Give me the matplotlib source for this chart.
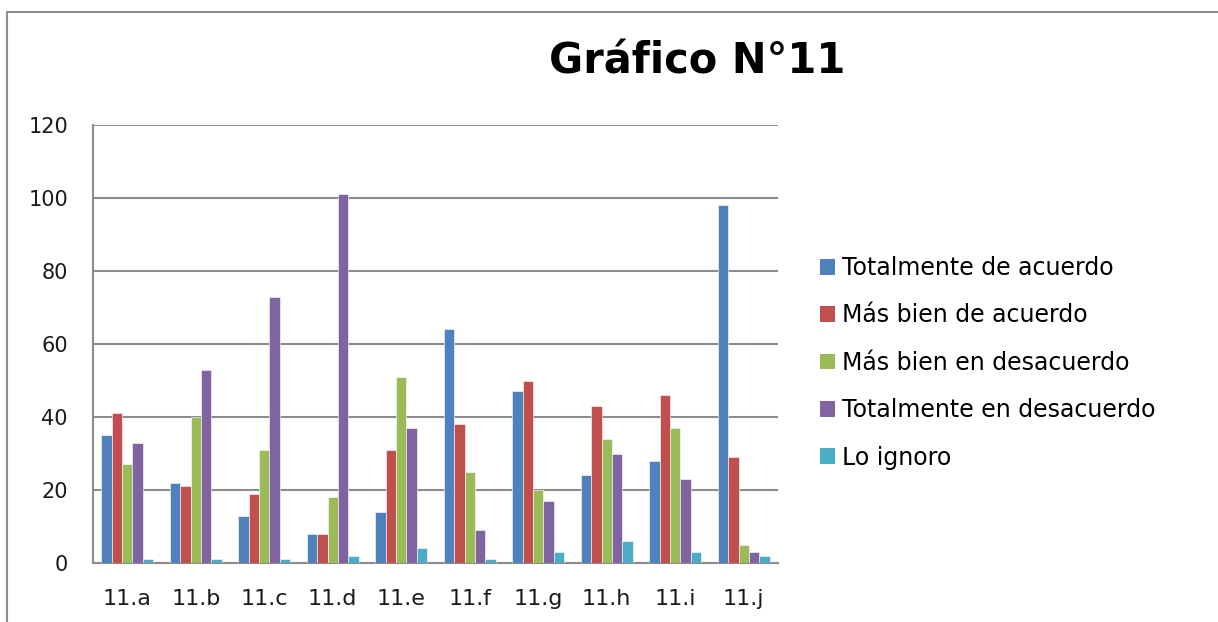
import matplotlib
matplotlib.use("Agg")
import matplotlib.pyplot as plt
import numpy as np
from matplotlib.patches import Rectangle, Patch

categories = ["11.a", "11.b", "11.c", "11.d", "11.e", "11.f", "11.g", "11.h", "11.i", "11.j"]
series_names = ["Totalmente de acuerdo", "Más bien de acuerdo", "Más bien en desacuerdo",
                "Totalmente en desacuerdo", "Lo ignoro"]
totalmente_acuerdo = [35, 22, 13, 8, 14, 64, 47, 24, 28, 98]
mas_bien_acuerdo = [41, 21, 19, 8, 31, 38, 50, 43, 46, 29]
mas_bien_desacuerdo = [27, 40, 31, 18, 51, 25, 20, 34, 37, 5]
totalmente_desacuerdo = [33, 53, 73, 101, 37, 9, 17, 30, 23, 3]
lo_ignoro = [1, 1, 1, 2, 4, 1, 3, 6, 3, 2]
colors = ["#4F81BD", "#C0504D", "#9BBB59", "#8064A2", "#4BACC6"]
yticks = [0, 20, 40, 60, 80, 100, 120]

values = [totalmente_acuerdo, mas_bien_acuerdo, mas_bien_desacuerdo, totalmente_desacuerdo, lo_ignoro]

plt.rcParams['font.family'] = ['DejaVu Sans']

W, H = 1218, 622
fig = plt.figure(figsize=(W / 100, H / 100), dpi=100)

# outer chart border
fig.patches.append(Rectangle((7 / W, -0.1), 1.2, (H - 12) / H + 0.1, transform=fig.transFigure,
                             fill=False, edgecolor="#8C8C8C", linewidth=1.5, zorder=0))

ax = fig.add_axes([93 / W, (H - 563) / H, (778 - 93) / W, (563 - 125) / H])
x = np.arange(len(categories))
bw = 0.152
for i, (vals, c, name) in enumerate(zip(values, colors, series_names)):
    ax.bar(x + (i - 2) * bw, vals, width=bw, color=c, edgecolor="#FFFFFF", linewidth=0.4,
           label=name, zorder=3)

ax.set_xlim(-0.5, len(categories) - 0.5)
ax.set_ylim(0, 120)
ax.set_yticks(yticks)
ax.set_yticklabels([str(v) for v in yticks], fontsize=15)
ax.set_xticks(x)
ax.set_xticklabels(categories, fontsize=16)
ax.tick_params(axis='both', length=0, colors="#1A1A1A")
ax.tick_params(axis='y', pad=18)
ax.tick_params(axis='x', pad=19)
ax.grid(axis='y', color="#8C8C8C", linewidth=1.5, zorder=0)
ax.set_axisbelow(True)
for s in ["top", "right"]:
    ax.spines[s].set_visible(False)
for s in ["left", "bottom"]:
    ax.spines[s].set_color("#8C8C8C")
    ax.spines[s].set_linewidth(1.5)

fig.text(697 / W, 1 - 62 / H, "Gráfico N°11", fontsize=30, fontweight="bold",
         ha="center", va="center")

handles = [Patch(facecolor=c, edgecolor="none") for c in colors]
fig.legend(handles, series_names, loc="upper left", bbox_to_anchor=(820 / W, 1 - 256 / H),
           frameon=False, fontsize=17, handlelength=0.65, handleheight=0.65,
           handletextpad=0.3, labelspacing=0.99, borderaxespad=0, borderpad=0)

fig.savefig("out.png", dpi=100)
